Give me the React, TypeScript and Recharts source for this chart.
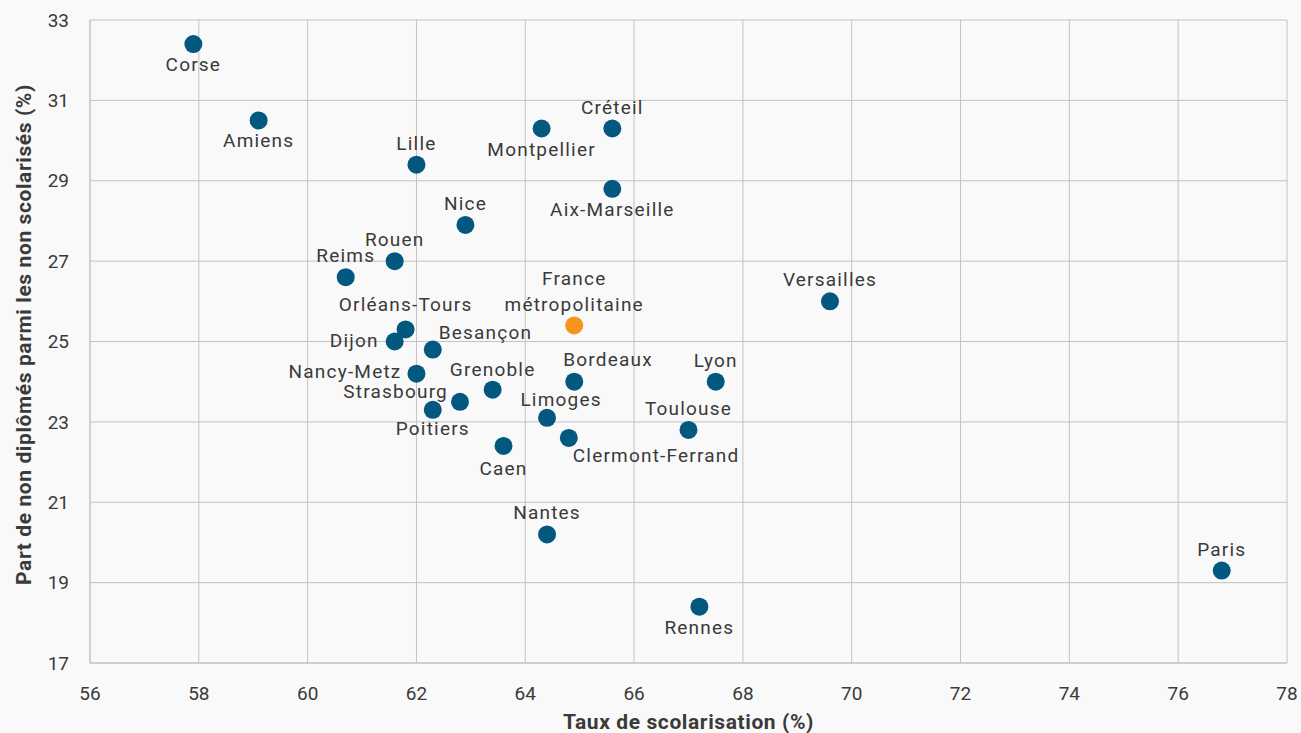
import { ScatterChart, Scatter, XAxis, YAxis, ZAxis, CartesianGrid } from 'recharts'

const ACADEMIES = [
  'Corse', 'Amiens', 'Lille', 'Montpellier', 'Créteil', 'Aix-Marseille', 'Nice',
  'Rouen', 'Reims', 'Orléans-Tours', 'Dijon', 'Besançon', 'Versailles',
  'Nancy-Metz', 'Grenoble', 'Strasbourg', 'Poitiers', 'Bordeaux', 'Lyon',
  'Limoges', 'Clermont-Ferrand', 'Toulouse', 'Caen', 'Nantes', 'Rennes', 'Paris',
]
const TAUX_SCOLARISATION = [
  57.9, 59.1, 62.0, 64.3, 65.6, 65.6, 62.9,
  61.6, 60.7, 61.8, 61.6, 62.3, 69.6,
  62.0, 63.4, 62.8, 62.3, 64.9, 67.5,
  64.4, 64.8, 67.0, 63.6, 64.4, 67.2, 76.8,
]
const PART_NON_DIPLOMES = [
  32.4, 30.5, 29.4, 30.3, 30.3, 28.8, 27.9,
  27.0, 26.6, 25.3, 25.0, 24.8, 26.0,
  24.2, 23.8, 23.5, 23.3, 24.0, 24.0,
  23.1, 22.6, 22.8, 22.4, 20.2, 18.4, 19.3,
]

const FRANCE_NAME = ['France', 'métropolitaine']
const FRANCE_X = 64.9
const FRANCE_Y = 25.4

const X_TICKS = [56, 58, 60, 62, 64, 66, 68, 70, 72, 74, 76, 78]
const Y_TICKS = [17, 19, 21, 23, 25, 27, 29, 31, 33]

const X_TITLE = 'Taux de scolarisation (%)'
const Y_TITLE = 'Part de non diplômés parmi les non scolarisés (%)'

// label placement around each dot: [text-anchor, dx, dy of baseline]
type Place = ['start' | 'middle' | 'end', number, number]
const TOP: Place = ['middle', 0, -15]
const BOTTOM: Place = ['middle', 0, 27]
const PLACE: Record<string, Place> = {
  'Corse': BOTTOM, 'Amiens': BOTTOM, 'Lille': TOP, 'Montpellier': BOTTOM,
  'Créteil': TOP, 'Aix-Marseille': BOTTOM, 'Nice': TOP, 'Rouen': TOP,
  'Reims': TOP, 'Orléans-Tours': ['middle', 0, -18], 'Dijon': ['end', -16, 5],
  'Besançon': ['start', 6, -11], 'Versailles': TOP, 'Nancy-Metz': ['end', -15, 4],
  'Grenoble': ['middle', 0, -14], 'Strasbourg': ['end', -12, -4],
  'Poitiers': ['middle', 0, 25], 'Bordeaux': ['start', -11, -16], 'Lyon': TOP,
  'Limoges': ['middle', 14, -12], 'Clermont-Ferrand': ['start', 4, 24],
  'Toulouse': TOP, 'Caen': ['middle', 0, 29], 'Nantes': TOP, 'Rennes': BOTTOM,
  'Paris': TOP,
}

const BLUE = '#03587f'
const ORANGE = '#f7941d'
const TEXT = '#3a3a3a'
const GRID = '#c2c2c2'
const FONT = 'Roboto, "Noto Sans", sans-serif'

const academies = ACADEMIES.map((name, i) => ({
  name, x: TAUX_SCOLARISATION[i], y: PART_NON_DIPLOMES[i],
}))
const france = [{ name: FRANCE_NAME.join(' '), x: FRANCE_X, y: FRANCE_Y }]

function Dot(props: any) {
  const { cx, cy, payload, fill } = props
  const p = PLACE[payload.name] ?? TOP
  return (
    <g>
      <circle cx={cx} cy={cy} r={9} fill={fill} />
      <text x={cx + p[1]} y={cy + p[2]} textAnchor={p[0]} fill={TEXT}
            fontSize={19} fontFamily={FONT} letterSpacing={1.2}>
        {payload.name}
      </text>
    </g>
  )
}

function FranceDot(props: any) {
  const { cx, cy, fill } = props
  return (
    <g>
      <circle cx={cx} cy={cy} r={9} fill={fill} />
      <text textAnchor="middle" fill={TEXT} fontSize={19} fontFamily={FONT} letterSpacing={1.2}>
        <tspan x={cx} y={cy - 40}>{FRANCE_NAME[0]}</tspan>
        <tspan x={cx} y={cy - 14}>{FRANCE_NAME[1]}</tspan>
      </text>
    </g>
  )
}

function XTitle({ viewBox }: any) {
  return (
    <text x={viewBox.x + viewBox.width / 2} y={viewBox.y + 66} textAnchor="middle"
          fill={TEXT} fontSize={21} fontWeight="bold" fontFamily={FONT} letterSpacing={0.6}>
      {X_TITLE}
    </text>
  )
}

function YTitle({ viewBox }: any) {
  const cx = 24
  const cy = viewBox.y + viewBox.height / 2 - 7
  return (
    <text x={cx} y={cy} transform={`rotate(-90 ${cx} ${cy})`} textAnchor="middle"
          dominantBaseline="central" fill={TEXT} fontSize={21} fontWeight="bold"
          fontFamily={FONT} letterSpacing={0.6}>
      {Y_TITLE}
    </text>
  )
}

export default function App() {
  return (
    <div style={{ width: 1301, height: 733, background: '#f9f9f9' }}>
      <style>{'body{margin:0;background:#f9f9f9}'}</style>
      <ScatterChart width={1301} height={733} margin={{ top: 20, right: 14, bottom: 40, left: 0 }}>
        <CartesianGrid stroke={GRID} strokeWidth={1} />
        <XAxis type="number" dataKey="x" domain={[56, 78]} ticks={X_TICKS}
               tickLine={false} tickMargin={18} axisLine={{ stroke: GRID }}
               tick={{ fill: TEXT, fontSize: 19, fontFamily: FONT }}
               label={<XTitle />} />
        <YAxis type="number" dataKey="y" domain={[17, 33]} ticks={Y_TICKS} width={90}
               tickLine={false} tickMargin={15} axisLine={{ stroke: GRID }}
               tick={{ fill: TEXT, fontSize: 19, fontFamily: FONT }}
               label={<YTitle />} />
        <ZAxis range={[254, 254]} />
        <Scatter data={academies} fill={BLUE} shape={<Dot />} isAnimationActive={false} />
        <Scatter data={france} fill={ORANGE} shape={<FranceDot />} isAnimationActive={false} />
      </ScatterChart>
    </div>
  )
}
